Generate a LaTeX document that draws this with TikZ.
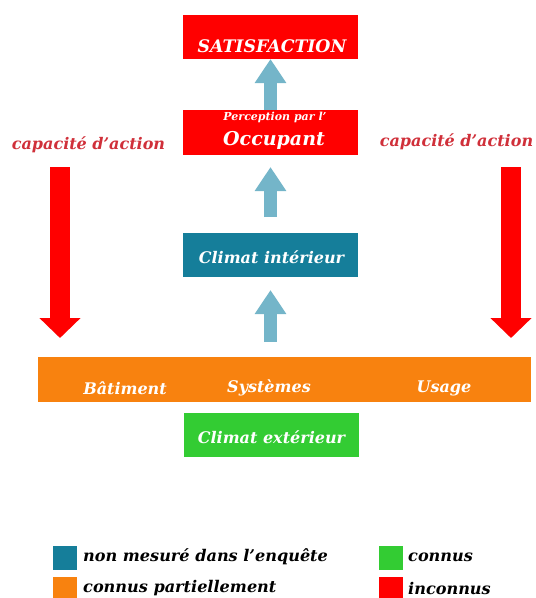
\documentclass[tikz,border=0pt]{standalone}
\usepackage{fontspec}
\setmainfont{DejaVu Serif}
\usetikzlibrary{arrows.meta}
\definecolor{cred}{HTML}{FF0000}
\definecolor{cteal}{HTML}{157E9A}
\definecolor{cblue}{HTML}{74B5C9}
\definecolor{corange}{HTML}{F8820F}
\definecolor{cgreen}{HTML}{33CC33}
\definecolor{ctxt}{HTML}{D0303A}
\tikzset{
  box/.style={minimum width=175pt, minimum height=44pt, inner sep=0pt, outer sep=0pt},
  wtxt/.style={text=white, font=\bfseries\itshape, inner sep=0pt},
  btxt/.style={text=black, font=\bfseries\itshape\fontsize{16.1}{18}\selectfont, inner sep=0pt, anchor=west},
  upar/.style={cblue, line width=12.5pt, -{Triangle[width=30pt,length=24pt]}},
  downar/.style={cred, line width=20pt, -{Triangle[width=40pt,length=20pt]}},
  legsq/.style={minimum size=24pt, inner sep=0pt, outer sep=0pt, anchor=north west},
}
\begin{document}
\begin{tikzpicture}[x=1pt,y=-1pt]
\useasboundingbox (0,0) rectangle (536,598);
% boxes
\node[box, fill=cred] (sat) at (270.5,37) {};
\node[wtxt, font=\bfseries\itshape\fontsize{17.3}{19}\selectfont] (sattxt) at (272,46) {SATISFACTION};
\node[box, fill=cred, minimum height=45pt] (occ) at (270.5,132.5) {};
\node[wtxt, font=\bfseries\itshape\fontsize{11}{12}\selectfont] (perc) at (275,117) {Perception par l'};
\node[wtxt, font=\bfseries\itshape\fontsize{19}{21}\selectfont] (occtxt) at (274,140) {Occupant};
\node[box, fill=cteal] (ci) at (270.5,255) {};
\node[wtxt, font=\bfseries\itshape\fontsize{16}{18}\selectfont] (citxt) at (271.5,257) {Climat intérieur};
\node[minimum width=493pt, minimum height=45pt, inner sep=0pt, outer sep=0pt, fill=corange] (band) at (284,379.5) {};
\node[wtxt, font=\bfseries\itshape\fontsize{16}{18}\selectfont] (bat) at (125,388) {Bâtiment};
\node[wtxt, font=\bfseries\itshape\fontsize{16}{18}\selectfont] (sys) at (269,388) {Systèmes};
\node[wtxt, font=\bfseries\itshape\fontsize{16}{18}\selectfont] (usa) at (444,388) {Usage};
\node[box, fill=cgreen] (ce) at (271,434.5) {};
\node[wtxt, font=\bfseries\itshape\fontsize{16}{18}\selectfont] (cetxt) at (271.5,437) {Climat extérieur};
% capacity labels
\node[text=ctxt, font=\bfseries\itshape\fontsize{16}{18}\selectfont, inner sep=0pt] (capl) at (88.5,145) {capacité d’action};
\node[text=ctxt, font=\bfseries\itshape\fontsize{16}{18}\selectfont, inner sep=0pt] (capr) at (456.5,142) {capacité d’action};
% blue arrows
\draw[upar] (occ.north) -- (sat.south);
\draw[upar, shorten <=16pt, shorten >=12pt] (ci.north) -- (occ.south);
\draw[upar, shorten <=15pt, shorten >=13pt] (band.north -| ci.south) -- (ci.south);
% red arrows
\coordinate (lt) at (60,167);
\coordinate (lb) at (60,338);
\coordinate (rt) at (511,167);
\coordinate (rb) at (511,338);
\draw[downar] (lt) -- (lb);
\draw[downar] (rt) -- (rb);
% legend
\node[legsq, fill=cteal] (l1) at (53,546) {};
\node[btxt] (t1) at (83,557) {non mesuré dans l’enquête};
\node[legsq, fill=corange] (l2) at (53,577) {};
\node[btxt] (t2) at (83,588) {connus partiellement};
\node[legsq, fill=cgreen] (l3) at (379,546) {};
\node[btxt] (t3) at (408,557) {connus};
\node[legsq, fill=cred] (l4) at (379,577) {};
\node[btxt] (t4) at (408,588) {inconnus};
\end{tikzpicture}
\end{document}
